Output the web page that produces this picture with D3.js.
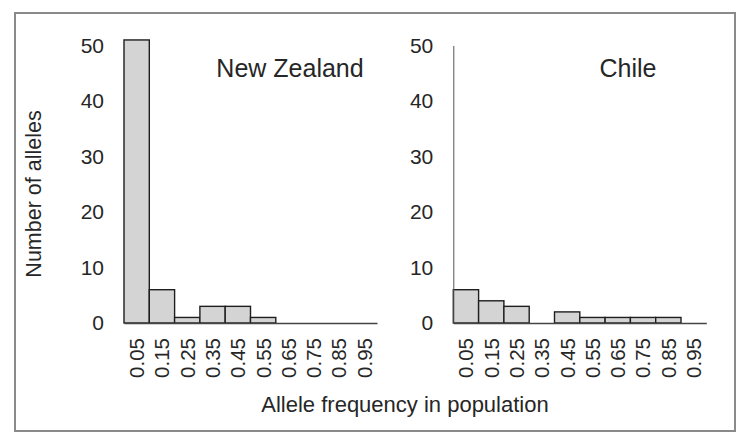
<!DOCTYPE html>
<html>
<head>
<meta charset="utf-8">
<script src="https://cdn.jsdelivr.net/npm/d3@7"></script>
<style>
  body { margin: 0; background: #fff; }
  text { font-family: "Liberation Sans", Arial, sans-serif; fill: #262626; }
</style>
</head>
<body>
<svg id="chart" width="750" height="446"></svg>
<script>
"use strict";

var bins = ["0.05", "0.15", "0.25", "0.35", "0.45", "0.55", "0.65", "0.75", "0.85", "0.95"];
var new_zealand = [51, 6, 1, 3, 3, 1, 0, 0, 0, 0];
var chile = [6, 4, 3, 0, 2, 1, 1, 1, 1, 0];
var y_ticks = [0, 10, 20, 30, 40, 50];

var svg = d3.select("#chart");

// outer frame
svg.append("rect")
  .attr("x", 15)
  .attr("y", 13)
  .attr("width", 720)
  .attr("height", 418)
  .attr("fill", "none")
  .attr("stroke", "#8a8a8a")
  .attr("stroke-width", 2);

var y = d3.scaleLinear()
  .domain([0, 50])
  .range([323, 45.5]);

function drawPanel(values, left, title, title_x, show_y_line) {
  var x = d3.scaleBand()
    .domain(bins)
    .range([left, left + 253])
    .paddingInner(0)
    .paddingOuter(0);

  var g = svg.append("g");

  // bars
  g.selectAll(".bar")
    .data(values)
    .enter()
    .append("rect")
    .attr("class", "bar")
    .attr("x", function (d, i) {
      return x(bins[i]);
    })
    .attr("y", function (d) {
      return y(d);
    })
    .attr("width", x.bandwidth())
    .attr("height", function (d) {
      return y(0) - y(d);
    })
    .attr("fill", "#d4d4d4")
    .attr("stroke", "#1e1e1e")
    .attr("stroke-width", 1.4)
    .attr("display", function (d) {
      return d > 0 ? null : "none";
    });

  var y_axis = g.append("g")
    .attr("transform", "translate(" + left + ",0)")
    .call(d3.axisLeft(y).tickValues(y_ticks).tickSize(0).tickSizeOuter(0).tickPadding(20));

  y_axis.select(".domain")
    .attr("stroke", show_y_line ? "#555" : "none")
    .attr("stroke-width", 1);

  y_axis.selectAll("text")
    .style("font-size", "21px")
    .style("font-family", "\"Liberation Sans\", Arial, sans-serif")
    .attr("fill", "#262626");

  var x_axis = g.append("g")
    .attr("transform", "translate(0," + y(0) + ")")
    .call(d3.axisBottom(x).tickSize(0).tickSizeOuter(0));

  x_axis.select(".domain")
    .attr("stroke", "#444")
    .attr("stroke-width", 1.5);

  x_axis.selectAll("text")
    .attr("transform", "rotate(-90)")
    .attr("x", -15)
    .attr("y", 0)
    .attr("dy", "0.36em")
    .attr("text-anchor", "end")
    .style("font-size", "20.5px")
    .style("font-family", "\"Liberation Sans\", Arial, sans-serif")
    .attr("fill", "#262626");

  g.append("text")
    .attr("x", title_x)
    .attr("y", 77)
    .attr("text-anchor", "middle")
    .style("font-size", "25px")
    .text(title);
}

drawPanel(new_zealand, 124, "New Zealand", 290, false);
drawPanel(chile, 453.3, "Chile", 628, true);

// axis titles
svg.append("text")
  .attr("transform", "translate(41,194) rotate(-90)")
  .attr("text-anchor", "middle")
  .style("font-size", "21.5px")
  .text("Number of alleles");

svg.append("text")
  .attr("x", 405)
  .attr("y", 412)
  .attr("text-anchor", "middle")
  .style("font-size", "22px")
  .text("Allele frequency in population");
</script>
</body>
</html>
